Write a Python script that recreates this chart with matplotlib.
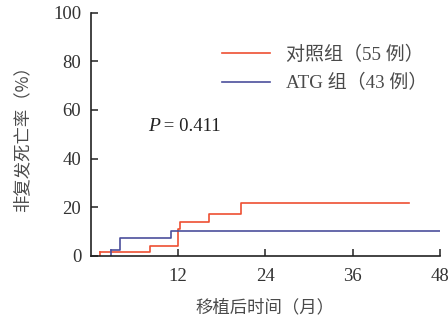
import matplotlib
matplotlib.use("Agg")
import matplotlib.pyplot as plt

# Cumulative incidence of non-relapse mortality (step functions)
months_ctrl = [0, 1.3, 8.1, 12.0, 12.2, 16.2, 20.6, 43.8]
rate_ctrl = [0, 1.8, 4.0, 11.0, 13.9, 17.3, 21.7, 21.7]
months_atg = [0, 2.7, 4.0, 11.0, 48.0]
rate_atg = [0, 2.3, 7.3, 10.3, 10.3]

x_ticks = [12, 24, 36, 48]
y_ticks = [0, 20, 40, 60, 80, 100]
label_ctrl = "对照组（55 例）"
label_atg = "ATG 组（43 例）"
p_text = " = 0.411"

cjk = ["Noto Sans CJK SC", "DejaVu Sans"]
serif = ["Liberation Serif", "DejaVu Serif"]
mixed = ["Liberation Serif", "Noto Sans CJK SC"]
text_gray = "#4a4a4a"

fig = plt.figure(figsize=(4.48, 3.24), dpi=100)
ax = fig.add_axes([0.203, 0.21, 0.779, 0.751])

red = "#ee4f32"
blue = "#4b4f9c"
l1, = ax.step(months_ctrl[1:], rate_ctrl[1:], where="post", color=red, lw=1.2)
ax.plot([months_ctrl[1], months_ctrl[1]], [0, rate_ctrl[1]], color=red, lw=1.2)
l2, = ax.step(months_atg[1:], rate_atg[1:], where="post", color=blue, lw=1.2)
ax.plot([months_atg[1], months_atg[1]], [0, rate_atg[1]], color=blue, lw=1.2)

ax.set_xlim(0, 48)
ax.set_ylim(0, 100)
ax.set_xticks(x_ticks)
ax.set_yticks(y_ticks)
for s in ["top", "right"]:
    ax.spines[s].set_visible(False)
for s in ["left", "bottom"]:
    ax.spines[s].set_linewidth(1.2)
    ax.spines[s].set_color("#222222")
ax.tick_params(direction="in", length=5, width=1.1, colors="#222222",
               labelsize=13.5)
ax.tick_params(axis="x", pad=9)
ax.tick_params(axis="y", pad=7)
for lab in ax.get_xticklabels() + ax.get_yticklabels():
    lab.set_family(serif)
    lab.set_color("#333333")

ax.set_xlabel("移植后时间（月）", family=cjk, fontsize=12.5, color=text_gray,
              labelpad=9)
ax.set_ylabel("非复发死亡率（%）", family=cjk, fontsize=12.5, color=text_gray,
              labelpad=16)

leg = ax.legend([l1, l2], [label_ctrl, label_atg], loc="upper right",
                bbox_to_anchor=(0.985, 0.895), borderaxespad=0.0,
                frameon=False, handlelength=2.5, handletextpad=0.85,
                labelspacing=0.55, prop={"family": mixed, "size": 13.7})
for t in leg.get_texts():
    t.set_color(text_gray)

ax.text(0.165, 0.53, "P", transform=ax.transAxes, fontsize=14,
        family=serif, style="italic", color="#222222", va="center")
ax.text(0.195, 0.53, p_text, transform=ax.transAxes, fontsize=13.5,
        family=serif, color="#222222", va="center")

fig.savefig("out.png", dpi=100)
